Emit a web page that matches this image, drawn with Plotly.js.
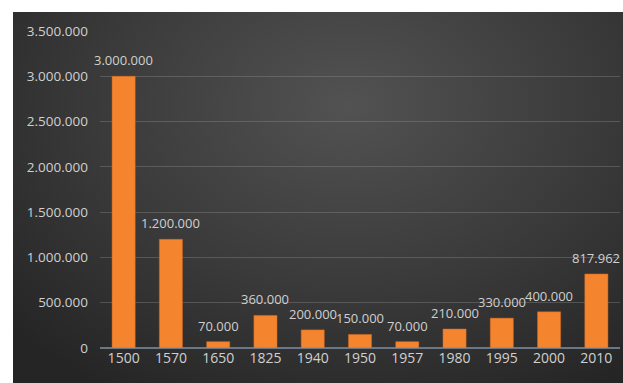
<!DOCTYPE html>
<html>
<head>
<meta charset="utf-8">
<script src="https://cdn.plot.ly/plotly-3.0.1.min.js"></script>
<style>
html,body{margin:0;padding:0;background:#ffffff;width:623px;height:383px;overflow:hidden;}
#chart{position:absolute;left:13px;top:12px;width:610px;height:371px;
background:radial-gradient(ellipse 75% 90% at 55% 25%, #525252 0%, #3a3a3a 55%, #252525 100%);}
</style>
</head>
<body>
<div id="chart"></div>
<script>
const years = ['1500','1570','1650','1825','1940','1950','1957','1980','1995','2000','2010'];
const values = [3000000, 1200000, 70000, 360000, 200000, 150000, 70000, 210000, 330000, 400000, 817962];
const yTicks = [0, 500000, 1000000, 1500000, 2000000, 2500000, 3000000, 3500000];

const FONT = 'Open Sans, DejaVu Sans, sans-serif';

function fmt(v) {
  return String(v).replace(/\B(?=(\d{3})+(?!\d))/g, '.');
}

const bars = {
  type: 'bar',
  x: years,
  y: values,
  marker: {color: '#f5842e', line: {color: '#c9661e', width: 0.5}},
  hoverinfo: 'none'
};

// annotations on a category axis: x given as the category index
const annotations = years.map((yr, i) => ({
  x: i,
  y: values[i],
  xref: 'x',
  yref: 'y',
  text: fmt(values[i]),
  showarrow: false,
  yanchor: 'middle',
  yshift: 16,
  font: {family: FONT, size: 13, color: '#d0d0d0'}
}));

const layout = {
  width: 610,
  height: 371,
  margin: {l: 87, r: 3, t: 19, b: 35},
  paper_bgcolor: 'rgba(0,0,0,0)',
  plot_bgcolor: 'rgba(0,0,0,0)',
  separators: ',.',
  bargap: 0.51,
  showlegend: false,
  annotations: annotations,
  font: {family: FONT, color: '#d0d0d0', size: 13},
  xaxis: {
    type: 'category',
    categoryarray: years,
    range: [-0.5, years.length - 0.5],
    showgrid: false,
    showline: false,
    ticks: '',
    tickfont: {size: 14, color: '#d0d0d0'}
  },
  yaxis: {
    range: [0, 3500000],
    tickvals: yTicks,
    tickformat: ',d',
    showgrid: true,
    gridcolor: 'rgba(150,150,150,0.35)',
    gridwidth: 1,
    zeroline: true,
    zerolinecolor: '#6b7785',
    zerolinewidth: 2,
    showline: false,
    ticks: '',
    ticklabelstandoff: 11,
    tickfont: {size: 13.5, color: '#d0d0d0'}
  }
};

Plotly.newPlot('chart', [bars], layout, {displayModeBar: false, staticPlot: true});
</script>
</body>
</html>
